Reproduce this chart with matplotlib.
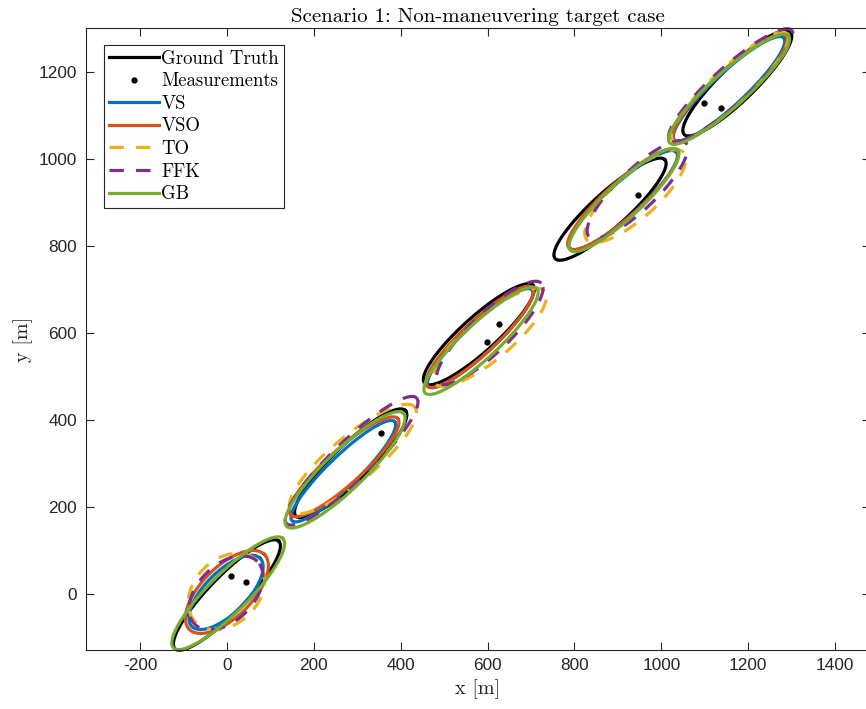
import numpy as np
import matplotlib
matplotlib.use('Agg')
import matplotlib.pyplot as plt

plt.rcParams['axes.unicode_minus'] = False

# ellipse parameters per method, one entry per time step
# centre x, centre y, semi-major, semi-minor, orientation (deg)
gt_cx = [0, 285, 580, 882, 1175]
gt_cy = [-3, 300, 597, 885, 1175]
gt_a = [172, 175, 168, 170, 170]
gt_b = [42, 42, 40, 40, 40]
gt_ang = [46, 44, 42, 42, 44]

vs_cx = [-2, 268, 583, 912, 1156]
vs_cy = [3, 282, 588, 906, 1162]
vs_a = [111, 164, 163, 165, 172]
vs_b = [48, 35, 35, 38, 37]
vs_ang = [45, 44, 43, 42, 43]

vso_cx = [0, 270, 582, 912, 1158]
vso_cy = [4, 292, 591, 908, 1164]
vso_a = [122, 166, 166, 168, 176]
vso_b = [58, 40, 38, 40, 40]
vso_ang = [45, 42, 43, 42, 43]

to_cx = [-1, 290, 605, 940, 1158]
to_cy = [5, 310, 590, 915, 1166]
to_a = [100, 186, 165, 150, 180]
to_b = [74, 52, 50, 50, 42]
to_ang = [45, 40, 40, 42, 43]

ffk_cx = [-2, 287, 605, 945, 1160]
ffk_cy = [2, 306, 600, 930, 1170]
ffk_a = [102, 208, 165, 155, 189]
ffk_b = [64, 45, 45, 45, 42]
ffk_ang = [45, 44, 44, 44, 42]

gb_cx = [3, 272, 585, 914, 1156]
gb_cy = [1, 285, 582, 906, 1161]
gb_a = [178, 187, 176, 169, 184]
gb_b = [45, 45, 40, 40, 40]
gb_ang = [45, 44, 43, 43, 42]

meas_x = [9, 44, 355, 626, 599, 946, 1098, 1137]
meas_y = [41, 27, 370, 621, 580, 918, 1130, 1118]


def ellipse_xy(cx, cy, a, b, ang):
    t = np.linspace(0, 2 * np.pi, 300)
    th = np.deg2rad(ang)
    x = cx + a * np.cos(t) * np.cos(th) - b * np.sin(t) * np.sin(th)
    y = cy + a * np.cos(t) * np.sin(th) + b * np.sin(t) * np.cos(th)
    return x, y


fig = plt.figure(figsize=(8.66, 7.09), dpi=100)
ax = fig.add_axes([85.5 / 866, 59 / 709, 784.3 / 866, 622 / 709])

lw = 2.3
serif = 'cmr10'

def draw(cxs, cys, as_, bs, angs, color, label, dashed=False):
    for i in range(len(cxs)):
        x, y = ellipse_xy(cxs[i], cys[i], as_[i], bs[i], angs[i])
        ln, = ax.plot(x, y, color=color, lw=lw, label=label if i == 0 else None,
                      clip_on=False)
        if dashed:
            ln.set_dashes((4.5, 3.8))

draw(gt_cx, gt_cy, gt_a, gt_b, gt_ang, 'k', 'Ground Truth')
ax.plot(meas_x, meas_y, '.', color='k', ms=7, label='Measurements')
draw(vs_cx, vs_cy, vs_a, vs_b, vs_ang, '#0072BD', 'VS')
draw(vso_cx, vso_cy, vso_a, vso_b, vso_ang, '#D95319', 'VSO')
draw(to_cx, to_cy, to_a, to_b, to_ang, '#EDB120', 'TO', dashed=True)
draw(ffk_cx, ffk_cy, ffk_a, ffk_b, ffk_ang, '#7E2F8E', 'FFK', dashed=True)
draw(gb_cx, gb_cy, gb_a, gb_b, gb_ang, '#77AC30', 'GB')

ax.set_xlim(-325.5, 1480)
ax.set_ylim(-129.6, 1302)
ax.set_xticks(np.arange(-200, 1401, 200))
ax.set_yticks(np.arange(0, 1201, 200))

for s in ax.spines.values():
    s.set_color('#262626')
    s.set_linewidth(0.8)
ax.tick_params(direction='in', length=5.5, width=0.8, color='#262626',
               labelcolor='#262626', labelsize=12.4, top=True, right=True, pad=6)
for lab in ax.get_xticklabels() + ax.get_yticklabels():
    lab.set_fontfamily('Liberation Sans')

ax.set_title('Scenario 1: Non-maneuvering target case', fontfamily=serif,
             fontsize=15, pad=4)
ax.set_xlabel('x [m]', fontfamily=serif, fontsize=14.5, labelpad=4, color='#262626')
ax.set_ylabel('y [m]', fontfamily=serif, fontsize=14.5, labelpad=4, color='#262626')

leg = ax.legend(loc='upper left', bbox_to_anchor=(18.5 / 784.3, 1 - 17 / 622),
                prop={'family': serif, 'size': 13.5}, fancybox=False,
                edgecolor='#262626', framealpha=1, handlelength=2.7,
                handletextpad=0.1, borderpad=0.25, labelspacing=0.25,
                borderaxespad=0, markerscale=1.0)
leg.get_frame().set_linewidth(0.8)

fig.savefig('out.png', dpi=100)
